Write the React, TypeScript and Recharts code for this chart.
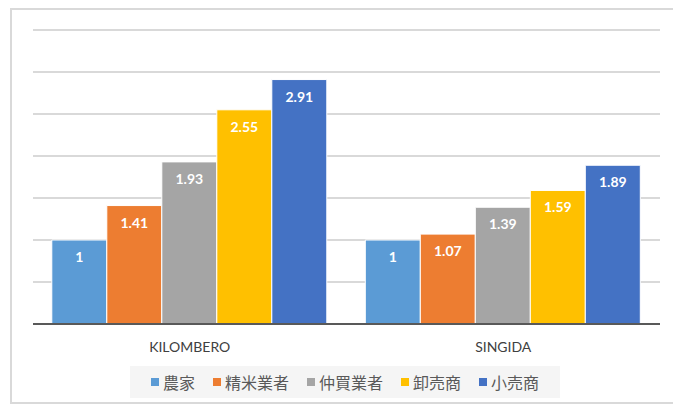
import React from 'react';
import { BarChart, Bar, XAxis, YAxis, CartesianGrid, LabelList } from 'recharts';

const regions = ['KILOMBERO', 'SINGIDA'];
const seriesNames = ['農家', '精米業者', '仲買業者', '卸売商', '小売商'];
const farmer = [1, 1];
const miller = [1.41, 1.07];
const broker = [1.93, 1.39];
const wholesaler = [2.55, 1.59];
const retailer = [2.91, 1.89];
const yTicks = [0, 0.5, 1, 1.5, 2, 2.5, 3, 3.5];

const colors = ['#5B9BD5', '#ED7D31', '#A5A5A5', '#FFC000', '#4472C4'];
const seriesValues = [farmer, miller, broker, wholesaler, retailer];

const data = regions.map((name, i) => {
  const row: Record<string, string | number> = { name };
  seriesNames.forEach((s, j) => {
    row[s] = seriesValues[j][i];
  });
  return row;
});

const ChartLegend: React.FC = () => (
  <div
    style={{
      position: 'absolute',
      left: 130,
      top: 366,
      width: 430,
      height: 32,
      background: '#f5f5f5',
      display: 'flex',
      alignItems: 'center',
      justifyContent: 'center',
      gap: 18,
      fontFamily: '"Noto Sans CJK JP", sans-serif',
      fontSize: 16,
      color: '#595959',
    }}
  >
    {seriesNames.map((s, i) => (
      <span key={s} style={{ display: 'flex', alignItems: 'center' }}>
        <span
          style={{
            display: 'inline-block',
            width: 8,
            height: 8,
            background: colors[i],
            marginRight: 4,
          }}
        />
        {s}
      </span>
    ))}
  </div>
);

export default function App() {
  return (
    <div
      style={{
        position: 'fixed',
        left: 0,
        top: 0,
        width: 673,
        height: 405,
        overflow: 'hidden',
        background: '#fff',
      }}
    >
      <div
        style={{
          position: 'absolute',
          left: 10,
          top: 8,
          width: 700,
          height: 392,
          border: '2px solid #d9d9d9',
        }}
      />
      <div style={{ position: 'absolute', left: 0, top: 0 }}>
        <BarChart
          width={673}
          height={405}
          data={data}
          margin={{ top: 30, right: 13, left: 33, bottom: 51 }}
          barCategoryGap="6%"
          barGap={0}
        >
          <CartesianGrid vertical={false} stroke="#d9d9d9" strokeWidth={2} />
          <XAxis
            dataKey="name"
            height={30}
            tickLine={false}
            tickSize={6}
            tickMargin={12}
            axisLine={{ stroke: '#595959', strokeWidth: 2 }}
            tick={{ fill: '#404040', fontSize: 14, fontFamily: 'Lato, sans-serif' }}
          />
          <YAxis hide domain={[0, 3.5]} ticks={yTicks} />
          {seriesNames.map((s, i) => (
            <Bar
              key={s}
              dataKey={s}
              fill={colors[i]}
              stroke="#fff"
              strokeWidth={1}
              isAnimationActive={false}
            >
              <LabelList
                dataKey={s}
                position="insideTop"
                offset={12}
                fill="#fff"
                fontSize={14}
                fontWeight="bold"
                fontFamily="Lato, sans-serif"
              />
            </Bar>
          ))}
        </BarChart>
      </div>
      <ChartLegend />
    </div>
  );
}
